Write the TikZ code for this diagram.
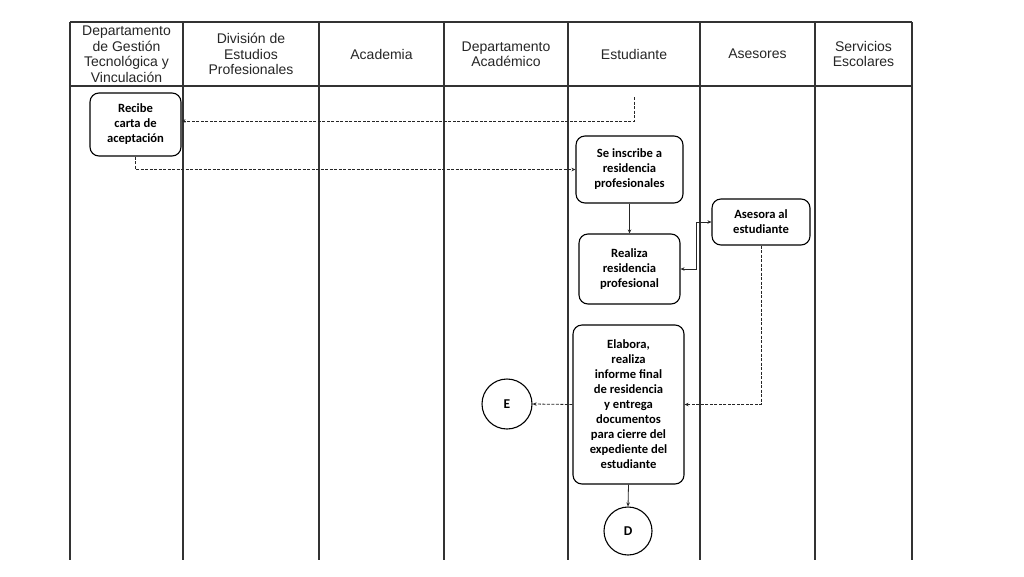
\documentclass[tikz,border=0pt]{standalone}
\usepackage{fontspec}
\setmainfont{Liberation Sans}
\newfontfamily\boxfont{Carlito}
\usetikzlibrary{arrows.meta}
\begin{document}
\begin{tikzpicture}[x=1pt,y=-1pt,
  hdr/.style={align=center,font=\fontsize{14}{15.5}\selectfont,text=black!85,inner sep=0pt},
  grid/.style={draw=black!80,line width=1.3pt},
  proc/.style={draw=black,line width=1.1pt,rounded corners=9pt,align=center,
    font=\boxfont\bfseries\fontsize{12.6}{15}\selectfont,inner sep=0pt},
  conn/.style={draw=black!85,line width=0.8pt},
  dline/.style={conn,dash pattern=on 3pt off 1.5pt},
  tip/.style={-{Stealth[length=4pt,width=3.5pt]}},
  circ/.style={circle,draw=black,line width=1.1pt,minimum size=50pt,inner sep=0pt,
    font=\boxfont\bfseries\fontsize{13.5}{15}\selectfont}
]
\useasboundingbox (0,0) rectangle (1024,576);
\fill[white] (0,0) rectangle (1024,576);

% table
\draw[grid] (70,22) -- (912,22);
\draw[grid] (70,86) -- (912,86);
\foreach \x in {70,183,319,444,568,700,815,912}
  \draw[grid] (\x,22) -- (\x,560);

% headers
\node[hdr] (h1) at (126.5,54) {Departamento\\de Gestión\\Tecnológica y\\Vinculación};
\node[hdr] (h2) at (251,54) {División de\\Estudios\\Profesionales};
\node[hdr] (h3) at (381.5,54) {Academia};
\node[hdr] (h4) at (506,54) {Departamento\\Académico};
\node[hdr] (h5) at (634,54) {Estudiante};
\node[hdr] (h6) at (757.5,54) {Asesores};
\node[hdr] (h7) at (863.5,54) {Servicios\\Escolares};

% process boxes
\node[proc,minimum width=91pt,minimum height=63pt] (recibe) at (135.5,124.5) {Recibe\\carta de\\aceptación};
\node[proc,minimum width=107pt,minimum height=67pt] (inscribe) at (629.5,169.5) {Se inscribe a\\residencia\\profesionales};
\node[proc,minimum width=101pt,minimum height=70pt] (realiza) at (629.5,269) {Realiza\\residencia\\profesional};
\node[proc,minimum width=98pt,minimum height=46pt] (asesora) at (761,222) {Asesora al\\estudiante};
\node[proc,minimum width=111pt,minimum height=159pt] (elabora) at (628.5,404.5) {Elabora,\\realiza\\informe final\\de residencia\\y entrega\\documentos\\para cierre del\\expediente del\\estudiante};
\node[circ] (E) at (507,404) {E};
\node[circ,minimum size=48pt] (D) at (628,531) {D};

% connectors
\coordinate (c1) at (634,97);
\draw[dline,tip] (c1) |- ([yshift=3.5pt]recibe.east);
\draw[dline,tip] (recibe.south) |- (inscribe.west);
\draw[conn,tip] (inscribe.south) -- (realiza.north);
\draw[conn,{Stealth[length=4pt,width=3.5pt]}-{Stealth[length=4pt,width=3.5pt]}] (asesora.west) -- ++(-15,0) |- (realiza.east);
\draw[dline,tip] (asesora.south) |- (elabora.east);
\draw[dline,tip] (elabora.west) -- (E.east);
\draw[conn,tip] (elabora.south) -- (D.north);
\end{tikzpicture}
\end{document}
